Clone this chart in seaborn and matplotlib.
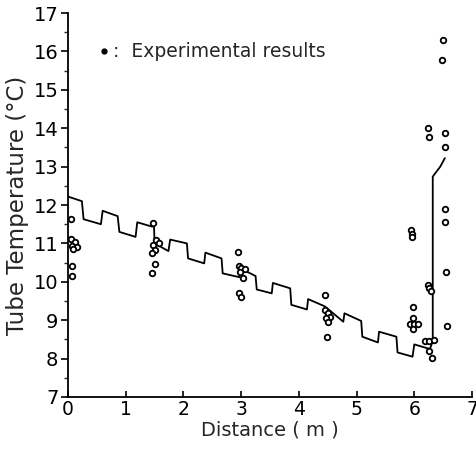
import numpy as np
import pandas as pd
import matplotlib
matplotlib.use("Agg")
import matplotlib.pyplot as plt
import seaborn as sns
from matplotlib.ticker import MultipleLocator

# Calculated tube temperature profile (step line)
line_x = [0.0, 0.24, 0.27, 0.57, 0.60, 0.86, 0.89, 1.17, 1.20, 1.45, 1.49, 1.50,
          1.74, 1.77, 2.06, 2.08, 2.36, 2.38, 2.66, 2.68, 2.97, 3.00, 3.25, 3.27,
          3.53, 3.55, 3.85, 3.87, 4.14, 4.16, 4.45, 4.77, 4.79, 5.08, 5.10, 5.37,
          5.39, 5.69, 5.71, 5.97, 6.00, 6.27, 6.32, 6.32, 6.45, 6.53]
line_y = [12.22, 12.10, 11.63, 11.50, 11.85, 11.71, 11.30, 11.17, 11.55, 11.44, 11.44, 11.00,
          10.80, 11.10, 11.00, 10.61, 10.48, 10.76, 10.61, 10.22, 10.12, 10.34, 10.15, 9.80,
          9.70, 9.97, 9.83, 9.40, 9.28, 9.55, 9.36, 8.96, 9.18, 8.98, 8.57, 8.42,
          8.70, 8.57, 8.16, 8.05, 8.37, 8.25, 8.45, 12.74, 13.00, 13.22]

# Experimental results
exp_x = [0.05, 0.06, 0.12, 0.07, 0.15, 0.09, 0.07, 0.07,
         1.48, 1.52, 1.57, 1.48, 1.51, 1.45, 1.50, 1.46,
         2.95, 2.96, 3.00, 3.07, 2.98, 3.04, 2.96, 3.00,
         4.45, 4.45, 4.51, 4.54, 4.47, 4.51, 4.48,
         5.94, 5.96, 5.96, 5.97, 5.97, 5.92, 6.00, 6.07, 5.97,
         6.24, 6.26, 6.29, 6.19, 6.26, 6.34, 6.26, 6.30,
         6.24, 6.26, 6.49, 6.48, 6.53, 6.53, 6.53, 6.53, 6.55, 6.57]
exp_y = [11.64, 11.11, 11.03, 10.94, 10.91, 10.85, 10.42, 10.16,
         11.52, 11.09, 11.00, 10.96, 10.83, 10.76, 10.46, 10.24,
         10.78, 10.42, 10.35, 10.33, 10.25, 10.11, 9.70, 9.61,
         9.66, 9.27, 9.18, 9.09, 9.05, 8.96, 8.57,
         11.35, 11.24, 11.16, 9.34, 9.05, 8.90, 8.90, 8.90, 8.76,
         9.92, 9.83, 9.77, 8.47, 8.47, 8.48, 8.20, 8.01,
         14.00, 13.76, 16.30, 15.78, 13.88, 13.50, 11.89, 11.57, 10.26, 8.85]

x_ticks = [0, 1, 2, 3, 4, 5, 6, 7]
y_ticks = [7, 8, 9, 10, 11, 12, 13, 14, 15, 16, 17]

sns.set_theme(style="ticks")
plt.rcParams['font.family'] = ['DejaVu Sans']

fig = plt.figure(figsize=(4.77, 4.5), dpi=100)
ax = fig.add_axes([0.1426, 0.1178, 0.8469, 0.8532])

line_df = pd.DataFrame({"x": line_x, "y": line_y})
exp_df = pd.DataFrame({"x": exp_x, "y": exp_y})

sns.lineplot(data=line_df, x="x", y="y", sort=False, estimator=None,
             color="black", linewidth=1.3, ax=ax)
sns.scatterplot(data=exp_df, x="x", y="y", marker="o", s=16,
                facecolor="white", edgecolor="black", linewidth=1.3, ax=ax, zorder=3)

ax.set_xlim(0, 7)
ax.set_ylim(7, 17)
ax.set_xticks(x_ticks)
ax.set_yticks(y_ticks)
ax.yaxis.set_minor_locator(MultipleLocator(0.5))
ax.tick_params(axis="y", which="major", direction="out", length=5, width=1.2,
               labelsize=14, colors="black", pad=2)
ax.tick_params(axis="y", which="minor", direction="out", length=3, width=1.0)
ax.tick_params(axis="x", which="major", direction="in", length=4, width=1.2,
               labelsize=13.5, colors="black", pad=2)
for s in ["top", "right"]:
    ax.spines[s].set_visible(False)
for s in ["left", "bottom"]:
    ax.spines[s].set_linewidth(1.3)
    ax.spines[s].set_color("black")

ax.set_xlabel("Distance ( m )", fontsize=14, labelpad=1)
ax.set_ylabel("Tube Temperature (°C)", fontsize=16.5, labelpad=3)

ax.plot([0.62], [16.0], "o", color="black", markersize=3.5)
ax.text(0.78, 16.0, ":  Experimental results", fontsize=13.5, va="center", ha="left")

fig.savefig("out.png", dpi=100, facecolor="white")
